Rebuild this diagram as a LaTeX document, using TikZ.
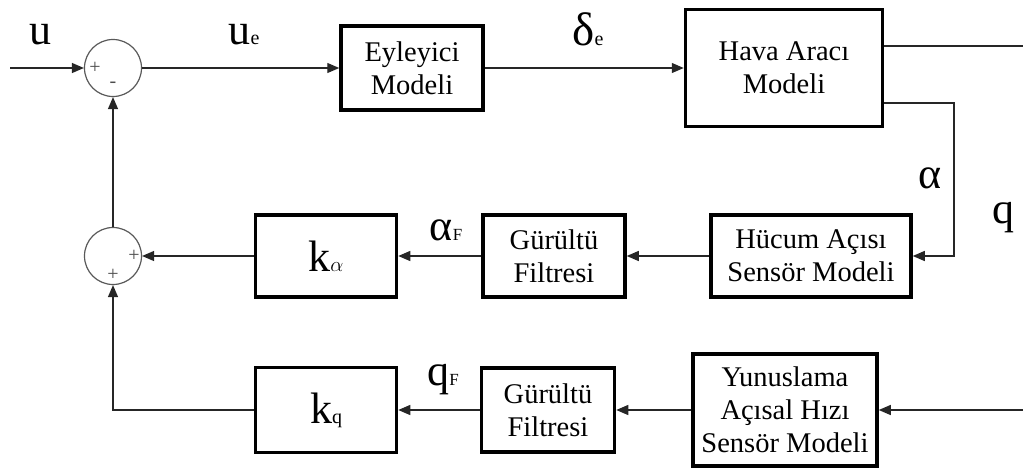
\documentclass[tikz,border=0pt]{standalone}
\usepackage{fontspec}
\setmainfont{Liberation Serif}
\usetikzlibrary{arrows.meta,positioning}
\newcommand{\lsub}[1]{{\fontsize{20}{20}\selectfont #1}}

\begin{document}
\begin{tikzpicture}[x=1pt, y=-1pt, >={Triangle[length=12pt,width=10pt]},
  blk/.style = {draw, line width=3.5pt, align=center, inner sep=0pt, font=\fontsize{28.5}{33}\selectfont},
  sum/.style = {draw=black!65, circle, line width=1.2pt, minimum size=57pt, inner sep=0pt},
  sgn/.style = {text=black!70, inner sep=0pt, font=\fontsize{20}{20}\selectfont},
  lbl/.style = {anchor=base, inner sep=0pt, font=\fontsize{44}{50}\selectfont},
  wire/.style = {line width=1.2pt, black!85}]
\useasboundingbox (0,0) rectangle (1023,469);

% forward path
\coordinate (in) at (10,68);
\node[sum] (s1) at (113,68) {};
\node[blk, minimum width=142pt, minimum height=84pt] (eyl) at (412,68) {Eyleyici\\Modeli};
\node[blk, minimum width=197pt, minimum height=117pt] (hava) at (784,68) {Hava Aracı\\Modeli};
\coordinate (out) at (1023,46);
\coordinate (bend) at (954,103);

% angle of attack feedback
\node[blk, minimum width=200pt, minimum height=82pt] (hucum) at (811,256) {Hücum Açısı\\Sensör Modeli};
\node[blk, minimum width=142pt, minimum height=82pt] (gf1) at (554,256) {Gürültü\\Filtresi};
\node[blk, minimum width=141pt, minimum height=82pt, font=\fontsize{44}{50}\selectfont] (ka) at (326,256) {k\lsub{$\alpha$}};
\node[sum] (s2) at (113,256) {};

% pitch rate feedback
\coordinate (in2) at (1023,410);
\node[blk, minimum width=184pt, minimum height=112pt] (yun) at (785,410) {Yunuslama\\Açısal Hızı\\Sensör Modeli};
\node[blk, minimum width=133pt, minimum height=84pt] (gf2) at (548,410) {Gürültü\\Filtresi};
\node[blk, minimum width=141pt, minimum height=85pt, font=\fontsize{44}{50}\selectfont] (kq) at (326,410) {k\lsub{q}};

% signs
\node[sgn] at ([xshift=11pt]s1.west) {+};
\node[sgn] at ([yshift=-17pt]s1.center) {-};
\node[sgn] at ([xshift=-8pt]s2.east) {+};
\node[sgn] at ([yshift=-19pt]s2.center) {+};

% signal labels
\node[lbl] at (40,44) {u};
\node[lbl] at (244,44) {u\lsub{e}};
\node[lbl] at (588,45) {\fontsize{47}{50}\selectfont δ\lsub{e}};
\node[lbl] at (930,188) {α};
\node[lbl] at (1003,223) {q};
\node[lbl] at (446,240) {α\lsub{\fontsize{17}{17}\selectfont F}};
\node[lbl] at (443,385) {q\lsub{\fontsize{17}{17}\selectfont F}};

\draw[wire,->] (in) -- (s1);
\draw[wire,->] (s1) -- (eyl);
\draw[wire,->] (eyl) -- (hava);
\draw[wire] (hava.east |- out) -- (out);
\draw[wire,->] (hava.east |- bend) -- (bend) |- (hucum);
\draw[wire,->] (hucum) -- (gf1);
\draw[wire,->] (gf1) -- (ka);
\draw[wire,->] (ka) -- (s2);
\draw[wire,->] (s2) -- (s1);
\draw[wire,->] (in2) -- (yun);
\draw[wire,->] (yun) -- (gf2);
\draw[wire,->] (gf2) -- (kq);
\draw[wire,->] (kq) -| (s2);
\end{tikzpicture}
\end{document}
